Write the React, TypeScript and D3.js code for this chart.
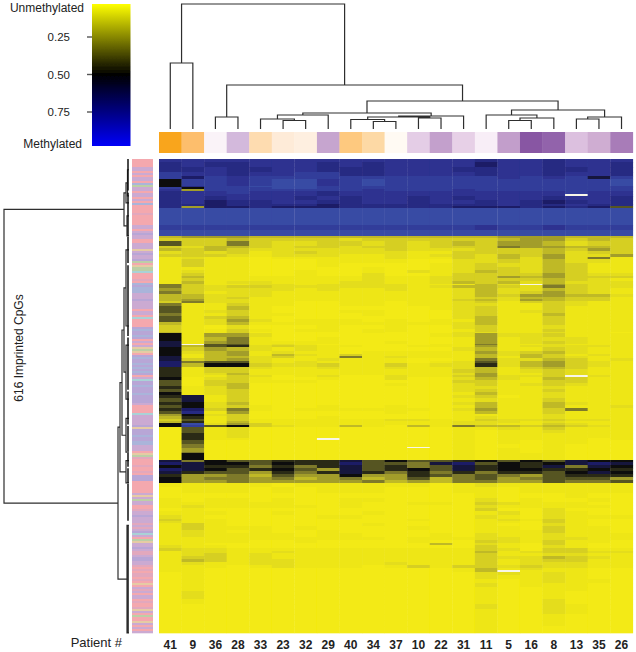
import React from "react";
import * as d3 from "d3";

const patients = ["41","9","36","28","33","23","32","29","40","34","37","10","22","31","11","5","16","8","13","35","26"];
const patientColors = ["#f9a51e","#fdbe6c","#faf3f8","#d3b9dc","#fedcb0","#feebd8","#feefe0","#c6a5cf","#fec97f","#fdd9a5","#fffaf3","#e4cde6","#c3a0cc","#e7d0e7","#f8eef7","#c29ecb","#8856a3","#9263ab","#dcc0df","#cfadd2","#a87bb8"];

// methylation level per code: 0-9 yellow to black, a-f black to blue, w = missing
const levelCodes = "0123456789abcdef";
const levelValues = [0,0.03,0.07,0.12,0.18,0.24,0.31,0.38,0.44,0.5,0.56,0.62,0.68,0.74,0.8,0.9];
const heatStops = [0,0.03,0.07,0.12,0.18,0.24,0.31,0.38,0.44,0.5,0.56,0.62,0.68,0.74,0.8,0.9];
const heatColors = ["#f3ea12","#eee614","#e4dd1a","#d6cf20","#bfb928","#a29d2c","#7e7a2a","#565422","#2c2c16","#0e0e0c","#15123e","#1e1c66","#282982","#2d3290","#313e9a","#394ba4"];

// [span of rows, level of each of the 21 patients]
const heatRows: [number, string][] = [
  [3,"dddd ddd ddd ddd dcdd cddd"],
  [5,"cdcc ddd cdc ddd dbdd cddc"],
  [5,"ccdc cdd ccc ddd ccdd ccdc"],
  [4,"eddc dde ecc ddd dcdd cddc"],
  [3,"ebed eee eee eee eede deae"],
  [7,"9eed eff def eee eeee eeef"],
  [1,"9cee fff eee eee eeee eeee"],
  [2,"e9ee eff eee eee eeee eeee"],
  [2,"d5ee eee eed eee deee eeee"],
  [3,"cdde ddd cdd ddd dddd dedd"],
  [2,"cddd ddd cdd ddd dddd dwdd"],
  [4,"cdcd ddc dcd dcd cddd cddc"],
  [4,"cdbc cdd ccd dcd dcdc bcdc"],
  [2,"ccbc ccc bcc ccc ccdc cdcc"],
  [2,"c5bb cbb bcc ccc bbbc bcb7"],
  [17,"ffff fff fff fff ffff ffff"],
  [5,"eeee eee eee eee edee deee"],
  [6,"ffff fff fff fff ffff ffff"],
  // y 236
  [2,"4555 444 444 444 4455 5444"],
  [3,"3334 333 323 333 3345 5343"],
  [5,"7336 322 332 323 4355 4233"],
  [2,"3244 323 323 323 3365 5443"],
  [3,"4343 222 222 322 2333 4353"],
  [3,"2323 123 222 211 3333 4233"],
  [3,"3332 122 211 212 3243 5225"],
  [2,"1211 011 111 211 3242 5261"],
  [4,"1311 000 111 100 2232 4221"],
  [4,"1311 000 100 001 2322 4311"],
  [3,"1111 000 001 001 2332 4311"],
  [3,"1211 001 001 021 2432 4311"],
  [3,"1311 001 002 001 3333 5322"],
  [2,"1411 111 112 112 3354 5333"],
  [3,"1311 111 112 112 3333 4321"],
  [3,"1412 211 122 112 4342 4222"],
  // y 284
  [1,"6311 221 222 211 142w 5322"],
  [3,"6323 322 222 212 4432 6322"],
  [3,"5322 221 211 211 2422 4321"],
  [3,"6312 211 111 111 2423 5321"],
  [3,"4422 211 111 111 2435 5442"],
  [2,"4423 111 111 111 2324 4331"],
  [2,"4522 111 111 111 3425 4331"],
  [2,"3622 110 011 011 2313 3211"],
  [3,"6113 110 011 011 2211 3211"],
  [4,"7114 100 000 001 2311 3111"],
  [3,"7123 100 011 000 2312 3111"],
  [3,"6113 110 001 000 2311 4111"],
  [3,"7134 100 000 000 2411 3111"],
  [3,"7125 201 110 101 1411 3111"],
  [3,"4124 111 111 111 2411 3111"],
  [4,"3102 000 100 100 2311 2111"],
  [3,"3113 101 101 100 1311 3111"],
  [1,"4113 000 001 000 2211 2110"],
  // y 333
  [4,"9155 200 000 001 2522 3111"],
  [4,"9146 100 100 000 1512 2211"],
  [3,"a156 111 100 100 1512 3211"],
  [1,"aw77 121 000 001 1611 2111"],
  [2,"a478 232 110 011 1512 2221"],
  [4,"9354 212 100 000 2411 3211"],
  [3,"9245 121 101 111 1523 4211"],
  [2,"9145 142 131 111 1424 3121"],
  [2,"a144 231 161 211 1414 3211"],
  [3,"a345 211 211 100 1622 4312"],
  [2,"b677 212 111 101 2724 5321"],
  [4,"b499 322 311 312 2824 5321"],
  [2,"8133 211 211 211 2413 4311"],
  [4,"8133 111 111 111 3412 3211"],
  [2,"8124 111 111 111 2511 3211"],
  [2,"8113 201 200 211 3522 3w21"],
  [3,"9023 100 100 200 2421 4311"],
  [3,"7033 111 000 000 3311 3311"],
  [3,"7034 000 000 100 2312 3211"],
  [3,"8124 000 000 000 2211 2111"],
  [3,"7123 000 000 000 2311 3111"],
  [3,"9123 000 000 000 1411 2111"],
  // y 395
  [3,"8a13 000 000 000 2301 2111"],
  [4,"7a13 000 000 000 1211 3111"],
  [3,"8924 000 000 000 2411 4211"],
  [3,"7923 100 100 100 1411 4112"],
  [3,"8b36 101 111 110 2511 3611"],
  [3,"7c15 000 000 100 1411 3111"],
  [2,"5923 000 000 000 1111 2111"],
  [3,"4813 000 100 000 1211 2111"],
  [2,"3713 111 111 221 1322 3221"],
  [2,"4814 111 111 111 2221 2111"],
  [2,"9f25 311 111 111 2211 3211"],
  [2,"9e79 321 141 041 6443 4321"],
  [3,"0712 000 000 000 1121 3111"],
  [3,"0712 000 000 000 1011 2111"],
  [5,"0812 000 000 000 1011 1111"],
  [2,"0811 000 w00 000 1011 1101"],
  [4,"0700 000 000 000 1010 1100"],
  [3,"0600 000 000 000 1000 1000"],
  [1,"0600 000 000 0w0 1000 1000"],
  [4,"0500 000 000 000 1010 1000"],
  [1,"0600 000 000 000 1010 1000"],
  [7,"0900 000 000 000 1011 1000"],
  // y 460
  [2,"a697 788 8a7 977 8979 7a99"],
  [3,"ba99 798 8b7 76a b798 9aba"],
  [3,"9a88 686 8a7 867 a898 a6a9"],
  [3,"ba97 897 5a7 897 a899 8898"],
  [3,"a877 586 8a8 686 8688 79a9"],
  [3,"8556 475 595 587 6765 7888"],
  [3,"9566 564 564 574 6756 7775"],
  [3,"9556 555 556 454 6655 7667"],
  // y 483
  [4,"1111 101 111 110 1211 1111"],
  [6,"0111 010 111 000 1101 1111"],
  [5,"0000 000 000 000 0100 0100"],
  [4,"1011 010 011 000 0201 0010"],
  [3,"1111 110 010 011 0321 1100"],
  [3,"1211 111 010 000 0211 1110"],
  [3,"0100 000 000 000 0300 2000"],
  [4,"1110 010 001 000 0120 2100"],
  [4,"2100 000 110 000 0210 2111"],
  [2,"3110 000 000 010 0121 3100"],
  [2,"2110 000 000 000 0110 3100"],
  [3,"1310 000 001 000 0100 2100"],
  [4,"1311 101 000 010 0110 3110"],
  [3,"1210 100 100 000 0111 3110"],
  [4,"1211 110 110 001 0211 2111"],
  [3,"1111 111 111 011 1221 2211"],
  [3,"1111 001 000 010 0321 3110"],
  [2,"1100 000 000 004 0210 3100"],
  [3,"2110 000 000 000 0310 2100"],
  [3,"3221 111 111 111 1320 3311"],
  [2,"1221 121 111 111 1412 3322"],
  [3,"1231 211 111 111 1311 2211"],
  [3,"1331 211 111 111 1322 4321"],
  [3,"1431 221 111 111 1312 3311"],
  [3,"1211 221 111 211 1312 2211"],
  [3,"1110 121 110 131 3323 2211"],
  [2,"1100 000 000 000 1412 1100"],
  [2,"1100 000 000 000 14w1 1100"],
  [3,"0100 000 000 000 0221 2100"],
  [4,"0100 000 000 000 0211 2100"],
  [4,"0100 000 000 000 0101 2110"],
  [4,"0100 000 000 000 0201 1100"],
  [4,"0100 000 000 000 0100 1100"],
  [4,"0200 000 000 000 0100 1000"],
  [4,"0200 000 000 000 0100 1000"],
  [5,"0100 000 000 000 0100 2000"],
  [5,"0000 000 000 000 0200 2100"],
  [5,"0000 000 000 000 0100 2100"],
  [6,"0000 000 000 000 0100 1000"],
  [6,"0000 000 000 000 0100 1000"],
  [7,"0000 000 000 000 0100 0000"]
];

const annotationColors: Record<string,string> = { P:"#f4a8ae", L:"#cbaad2", V:"#b8a6d6", B:"#aab4da", G:"#bccfa6", T:"#e6cba4", C:"#a9d2d6", M:"#e2a8bd" };
const rowAnnotation = [
  "PPPPLLPLPLLPBGLLPLLPLPBPPPPMPPPPPLLPLVLL",
  "PPLLLTLVLLVGPTGGCPPPMPBVBBBLLLVLLLLPLLPC",
  "PPPPVBVVBVPLPLTGTPVBVVBVBVBVPLCVVBVVVBVV",
  "VVLPPPPCLLLLLVTVVVBVVBBLLLPTGMPPPMPPMPVV",
  "VPPPPPPLTLGLLPPMLLVLLLMLMLVCLPGTLLVLMMLV",
  "VLLMPMPMMPMPTPLMLPLLPMPPMTLPGPPTLPLPL"
];

// merges: [height, left, right]; a number is a leaf position
type Merge = [number, Merge | number, Merge | number];
const patientTree: Merge = [125,
  [66, 0, 1],
  [44,
    [12, 2, 3],
    [28,
      [16,
        [14, [10, 4, [8.5, 5, 6]], 7],
        [13, [12, [9.5, 8, [7.5, 9, 10]], [11, 11, 12]], 13]],
      [19,
        [14, 14, [11, [8.5, 15, 16], 17]],
        [12, [10, 18, 19], 20]]]]];
const cpgTree: Merge = [125,
  [5, [3, [1.5, 14, 48], 57], [2, 74, 100]],
  [11,
    [9,
      [7,
        [5, [3, 118, 217], [3, 242, 312]],
        [3, 337, 381]],
      [3, 392, 421]],
    [2, 476, 616]]];
const tightClusters: [number, number][] = [[0,41],[44,100],[101,135],[138,230],[232,300],[302,345],[347,380],[382,400],[402,421],[422,470],[476,616]];

const legendTicks = [0.25, 0.5, 0.75];
const legendStops: [number, string][] = [[0.03,"#ffff00"],[0.5,"#000000"],[0.97,"#0000f5"]];

const W = 636, H = 652;
const FONT = "'Liberation Sans', Arial, sans-serif";
const LINE = "#2e2e2e";

function collect(node: Merge | number, place: (v: number) => number, out: { a: number; b: number; h: number; ha: number; hb: number }[]): { pos: number; h: number } {
  if (typeof node === "number") return { pos: place(node), h: 0 };
  const l = collect(node[1], place, out);
  const r = collect(node[2], place, out);
  out.push({ a: l.pos, b: r.pos, h: node[0], ha: l.h, hb: r.h });
  return { pos: (l.pos + r.pos) / 2, h: node[0] };
}

export default function App() {
  const x = d3.scaleBand<string>().domain(patients).range([159, 632.8]);
  const rowY = d3.scaleLinear().domain([0, 616]).range([159, 633]);
  const totalSpan = d3.sum(heatRows, (d) => d[0]);
  const heat = d3.scaleLinear<string>().domain(heatStops).range(heatColors).clamp(true);
  const topH = d3.scaleLinear().domain([0, 125]).range([129, 4]);
  const leftH = d3.scaleLinear().domain([0, 125]).range([129, 4]);
  const legendY = d3.scaleLinear().domain([0, 1]).range([-0.5, 149.5]);

  const heatCells: React.ReactElement[] = [];
  let acc = 0;
  heatRows.forEach(([span, codes], r) => {
    const y0 = rowY((acc / totalSpan) * 616);
    acc += span;
    const y1 = rowY((acc / totalSpan) * 616);
    const levels = codes.replace(/ /g, "");
    patients.forEach((p, c) => {
      const code = levels[c];
      const i = levelCodes.indexOf(code);
      const fill = i < 0 ? "#f8f6e8" : heat(levelValues[i]);
      heatCells.push(<rect key={r + "-" + c} x={x(p)} y={y0} width={x.bandwidth() + 0.3} height={y1 - y0 + 0.3} fill={fill} />);
    });
  });

  const annoChars = rowAnnotation.join("").split("");
  const annoStep = 474 / annoChars.length;

  const topSegs: { a: number; b: number; h: number; ha: number; hb: number }[] = [];
  collect(patientTree, (i) => (x(patients[i]) as number) + x.bandwidth() / 2, topSegs);
  const topPath = d3.path();
  topSegs.forEach((s) => {
    topPath.moveTo(s.a, topH(s.ha)); topPath.lineTo(s.a, topH(s.h)); topPath.lineTo(s.b, topH(s.h)); topPath.lineTo(s.b, topH(s.hb));
  });
  const leftSegs: { a: number; b: number; h: number; ha: number; hb: number }[] = [];
  collect(cpgTree, (v) => rowY(v), leftSegs);
  const leftPath = d3.path();
  leftSegs.forEach((s) => {
    leftPath.moveTo(leftH(s.ha), s.a); leftPath.lineTo(leftH(s.h), s.a); leftPath.lineTo(leftH(s.h), s.b); leftPath.lineTo(leftH(s.hb), s.b);
  });

  return (
    <svg width={W} height={H} viewBox={`0 0 ${W} ${H}`} style={{ position: "absolute", left: 0, top: 0, background: "#fff", fontFamily: FONT }}>
      <defs>
        <filter id="soft" x="-2%" y="-2%" width="104%" height="104%"><feGaussianBlur stdDeviation="0.7" /></filter>
        <linearGradient id="legend" x1="0" y1="0" x2="0" y2="1">
          {legendStops.map(([v, c]) => (
            <stop key={v} offset={(legendY(v) - 4) / 142} stopColor={c} />
          ))}
        </linearGradient>
      </defs>

      {/* legend */}
      <rect x={92} y={4} width={38.5} height={142} fill="url(#legend)" filter="url(#soft)" />
      {legendTicks.map((t) => (
        <g key={t}>
          <line x1={87} x2={92} y1={legendY(t)} y2={legendY(t)} stroke="#555" strokeWidth={1.4} />
          <text x={70} y={legendY(t) + 4} textAnchor="end" fontSize={11.5} fill="#222">{t.toFixed(2)}</text>
        </g>
      ))}
      <text x={84} y={12} textAnchor="end" fontSize={12} fill="#222">Unmethylated</text>
      <text x={82} y={148} textAnchor="end" fontSize={12} fill="#222">Methylated</text>

      {/* patient dendrogram */}
      <path d={topPath.toString()} fill="none" stroke={LINE} strokeWidth={1.2} />

      {/* patient annotation */}
      <g filter="url(#soft)">
        {patients.map((p, i) => (
          <rect key={p} x={x(p)} y={132} width={x.bandwidth() + 0.3} height={21} fill={patientColors[i]} />
        ))}
      </g>

      {/* CpG dendrogram */}
      <path d={leftPath.toString()} fill="none" stroke={LINE} strokeWidth={1.2} />
      {tightClusters.map(([a, b]) => (
        <line key={a} x1={leftH(1)} x2={leftH(1)} y1={rowY(a)} y2={rowY(b)} stroke="#111" strokeWidth={1.5} />
      ))}

      {/* CpG annotation */}
      <g filter="url(#soft)">
        {annoChars.map((c, i) => (
          <rect key={i} x={132} y={159 + i * annoStep} width={21} height={annoStep + 0.3} fill={annotationColors[c]} />
        ))}
      </g>

      {/* heatmap */}
      <g filter="url(#soft)">{heatCells}</g>

      {/* labels */}
      <text transform="translate(23,348) rotate(-90)" textAnchor="middle" fontSize={12} fill="#222">616 Imprinted CpGs</text>
      <text x={122} y={647} textAnchor="end" fontSize={13} fill="#222">Patient #</text>
      {patients.map((p) => (
        <text key={p} x={(x(p) as number) + x.bandwidth() / 2} y={649} textAnchor="middle" fontSize={12} fontWeight="bold" fill="#222">{p}</text>
      ))}
    </svg>
  );
}
